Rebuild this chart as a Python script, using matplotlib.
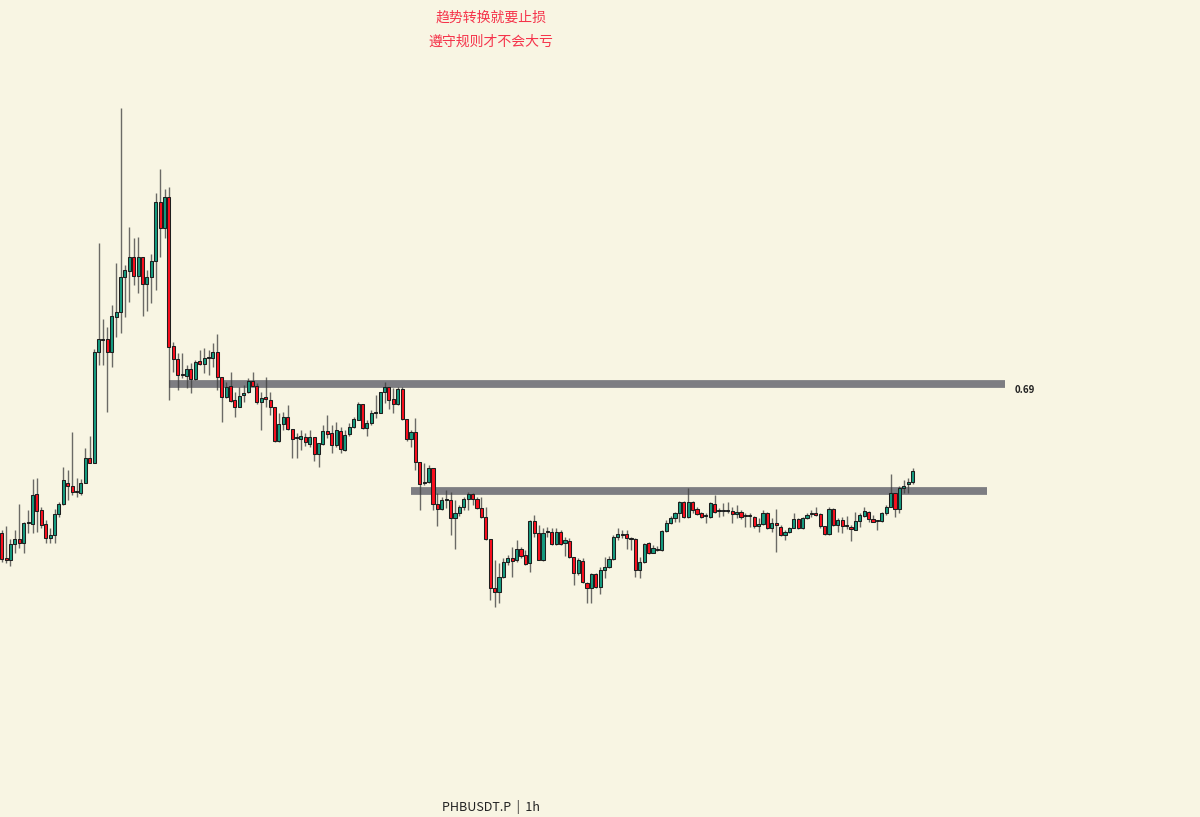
import numpy as np
import matplotlib
matplotlib.use('Agg')
import matplotlib.pyplot as plt

plt.rcParams['font.family'] = ['Noto Sans CJK SC', 'DejaVu Sans']

# PHBUSDT.P 1h candles, prices in 0.001 USDT
opens = np.array([
    541, 516, 514, 530, 535, 531, 551, 550, 580, 564,
    550, 536, 539, 560, 570, 591, 588, 582, 581, 591,
    616, 611, 722, 734, 735, 722, 757, 762, 797, 803,
    817, 798, 817, 790, 797, 813, 872, 846, 877, 728,
    715, 699, 698, 705, 695, 713, 710, 716, 716, 722,
    697, 677, 688, 674, 667, 679, 682, 693, 688, 672,
    677, 674, 667, 633, 650, 657, 645, 636, 635, 637,
    630, 637, 620, 630, 643, 641, 629, 643, 624, 640,
    647, 654, 670, 646, 651, 661, 661, 682, 687, 675,
    670, 685, 655, 635, 642, 612, 591, 592, 606, 570,
    565, 574, 574, 556, 561, 567, 575, 580, 575, 566,
    557, 535, 486, 482, 497, 512, 516, 514, 525, 519,
    511, 553, 541, 514, 542, 542, 530, 542, 531, 533,
    517, 501, 513, 491, 486, 500, 487, 504, 507, 515,
    537, 539, 540, 535, 535, 504, 512, 531, 521, 524,
    524, 543, 551, 556, 561, 572, 557, 572, 565, 561,
    558, 557, 570, 563, 563, 563, 563, 560, 562, 558,
    558, 557, 548, 550, 561, 546, 551, 547, 539, 542,
    546, 555, 546, 556, 560, 561, 560, 548, 540, 565,
    549, 554, 548, 547, 544, 553, 558, 562, 555, 553,
    553, 561, 567, 581, 565, 586, 590, 592]) * 0.001

highs = np.array([
    544, 548, 535, 544, 570, 552, 564, 595, 596, 567,
    554, 546, 565, 572, 607, 604, 642, 596, 595, 626,
    638, 725, 831, 755, 747, 769, 811, 966, 809, 847,
    836, 837, 817, 804, 820, 881, 905, 885, 887, 732,
    721, 721, 709, 711, 714, 724, 726, 724, 731, 740,
    697, 692, 702, 682, 687, 689, 696, 702, 691, 682,
    697, 682, 667, 661, 662, 669, 645, 641, 644, 641,
    644, 637, 631, 649, 659, 649, 652, 647, 644, 651,
    657, 672, 670, 654, 664, 679, 682, 692, 687, 686,
    687, 687, 655, 644, 656, 612, 611, 609, 606, 581,
    577, 584, 582, 574, 569, 577, 582, 581, 577, 577,
    567, 535, 514, 511, 516, 519, 527, 534, 527, 524,
    554, 559, 549, 546, 547, 546, 546, 544, 537, 536,
    517, 516, 516, 492, 501, 501, 507, 517, 518, 539,
    546, 544, 544, 537, 536, 517, 531, 532, 529, 528,
    544, 554, 558, 562, 573, 573, 586, 573, 567, 562,
    561, 572, 579, 566, 571, 572, 567, 569, 564, 561,
    561, 558, 556, 564, 562, 556, 565, 549, 544, 547,
    561, 556, 557, 561, 564, 567, 561, 548, 567, 566,
    556, 557, 558, 549, 562, 561, 567, 563, 559, 554,
    562, 569, 600, 581, 588, 594, 596, 606]) * 0.001

lows = np.array([
    512, 511, 508, 521, 526, 521, 541, 541, 542, 546,
    531, 531, 531, 557, 569, 574, 579, 577, 579, 591,
    611, 611, 709, 709, 662, 707, 737, 741, 757, 772,
    789, 781, 758, 763, 771, 784, 817, 836, 674, 702,
    684, 696, 686, 681, 694, 709, 701, 699, 707, 684,
    652, 676, 672, 657, 667, 672, 681, 688, 670, 644,
    667, 659, 632, 632, 644, 644, 616, 616, 624, 628,
    627, 613, 607, 629, 636, 621, 627, 621, 623, 638,
    646, 654, 645, 638, 649, 656, 661, 671, 665, 661,
    669, 654, 633, 627, 604, 564, 589, 591, 564, 548,
    564, 566, 539, 525, 558, 564, 564, 569, 565, 556,
    534, 474, 467, 471, 496, 509, 497, 512, 516, 509,
    502, 537, 514, 513, 537, 529, 529, 529, 518, 516,
    489, 499, 491, 471, 471, 486, 480, 496, 506, 514,
    534, 536, 525, 524, 497, 496, 511, 520, 521, 523,
    523, 542, 550, 552, 552, 556, 556, 561, 559, 556,
    551, 556, 561, 557, 558, 561, 551, 556, 555, 547,
    547, 546, 542, 549, 545, 542, 522, 538, 534, 541,
    546, 545, 545, 555, 557, 558, 546, 539, 539, 548,
    542, 541, 545, 533, 544, 547, 557, 552, 552, 544,
    552, 559, 567, 557, 561, 581, 581, 590]) * 0.001

closes = np.array([
    515, 514, 530, 535, 531, 551, 552, 579, 563, 549,
    536, 539, 560, 570, 594, 588, 582, 583, 591, 616,
    611, 722, 735, 735, 722, 758, 762, 797, 804, 817,
    798, 817, 790, 797, 813, 872, 846, 877, 727, 715,
    699, 700, 705, 695, 712, 710, 716, 717, 722, 697,
    677, 687, 673, 667, 678, 681, 693, 688, 672, 676,
    675, 667, 633, 650, 657, 645, 635, 637, 638, 632,
    637, 620, 631, 643, 640, 629, 644, 625, 639, 647,
    655, 670, 646, 651, 661, 662, 682, 687, 674, 670,
    685, 655, 635, 642, 612, 590, 592, 606, 570, 565,
    574, 575, 556, 561, 567, 575, 580, 575, 566, 557,
    535, 486, 482, 497, 512, 516, 513, 525, 518, 510,
    553, 541, 514, 541, 543, 530, 542, 530, 534, 517,
    501, 514, 492, 486, 500, 487, 504, 507, 515, 537,
    540, 540, 536, 536, 504, 512, 530, 521, 526, 525,
    543, 551, 556, 561, 572, 557, 572, 564, 560, 557,
    559, 571, 562, 564, 564, 564, 560, 562, 557, 559,
    559, 548, 550, 561, 546, 551, 549, 539, 542, 546,
    555, 546, 556, 559, 561, 559, 548, 540, 565, 549,
    554, 548, 549, 545, 553, 559, 563, 555, 552, 554,
    561, 567, 581, 565, 586, 588, 592, 603]) * 0.001

# horizontal levels: price, first bar, last bar
levels = [0.690, 0.583]
level_start = [38, 93]
level_end = [228, 224]
level_label = '0.69'

title_lines = ['趋势转换就要止损', '遵守规则才不会大亏']
symbol_label = 'PHBUSDT.P  |  1h'

bg = '#f8f5e3'
up_col = '#159c80'
down_col = '#fb0f1e'

fig = plt.figure(figsize=(12, 8.17), dpi=100, facecolor=bg)
ax = fig.add_axes([0, 0, 1, 1])
ax.set_facecolor(bg)
ax.axis('off')

x = np.arange(len(opens))
up = closes >= opens
colors = np.where(up, up_col, down_col)

# wicks
ax.vlines(x, lows, highs, color='#3c3c3c', lw=1.0, alpha=0.75, zorder=2)

# bodies
bottoms = np.minimum(opens, closes)
heights = np.maximum(np.abs(closes - opens), 0.0012)
ax.bar(x, heights, bottom=bottoms, width=0.7, color=colors,
       edgecolor='#1e1e1e', linewidth=0.75, zorder=3)

# levels
for lv, s, e in zip(levels, level_start, level_end):
    ax.hlines(lv, s, e, color='#7d7d82', lw=5.6, capstyle='butt', zorder=1)

ax.text(level_end[0] + 2.2, levels[0] - 0.006, level_label, fontsize=7,
        fontweight='bold', color='#222222', va='center', ha='left')

ax.set_xlim(-0.386, 272.3)
ax.set_ylim(0.257, 1.074)

fig.text(0.409, 0.979, title_lines[0], fontsize=10, color='#f5334a',
         ha='center', va='center')
fig.text(0.409, 0.9495, title_lines[1], fontsize=10, color='#f5334a',
         ha='center', va='center')
fig.text(0.409, 0.0122, symbol_label, fontsize=9, color='#222222',
         ha='center', va='center')

plt.savefig('out.png', dpi=100, facecolor=bg)
plt.close(fig)
